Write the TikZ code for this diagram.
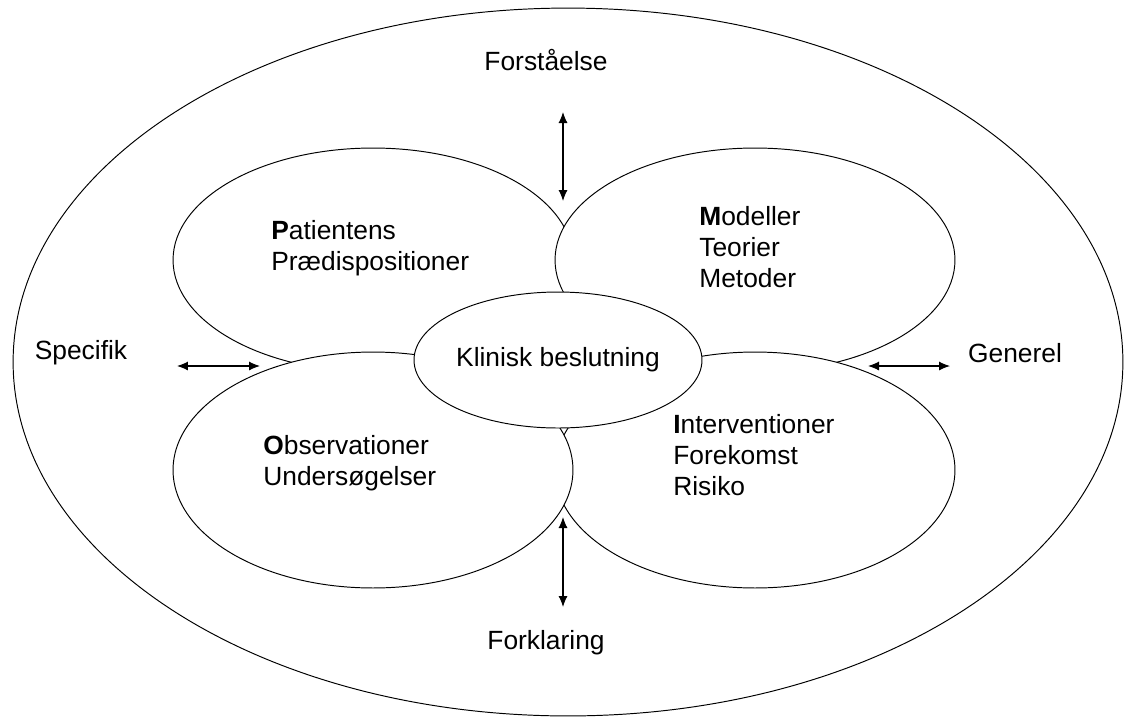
\documentclass[tikz,border=0pt]{standalone}
\usepackage{fontspec}
\setmainfont{Liberation Sans}
\usetikzlibrary{arrows.meta,shapes.geometric,positioning}
\tikzset{
  felt/.style={ellipse, draw, fill=white, line width=0.55pt, inner sep=0pt, minimum width=8cm},
  tekst/.style={font=\fontsize{15}{17.6}\selectfont, inner sep=0pt, align=left},
  pil/.style={line width=0.6pt, {Latex[length=2.2mm,width=1.8mm]}-{Latex[length=2.2mm,width=1.8mm]}}
}

\begin{document}
\begin{tikzpicture}[x=0.02cm,y=-0.02cm]
\useasboundingbox (0,0) rectangle (1126,718);
% ydre ramme
\draw (568,362) node (ramme) [felt, minimum width=22.2cm, minimum height=14.16cm] {};
% de fire felter
\draw (373,260) node (pfelt) [felt, minimum height=4.48cm] {};
\draw (755,260) node (mfelt) [felt, minimum height=4.48cm] {};
\draw (755,470) node (ifelt) [felt, minimum height=4.72cm] {};
\draw (373,470) node (ofelt) [felt, minimum height=4.72cm] {};
\draw (558,360) node (klinisk) [felt, tekst, minimum width=5.5cm, minimum height=2.72cm] {Klinisk beslutning};
%\node (x) at (563,230) {};
\node (pt) at (271,248) [tekst, anchor=west] {\textbf{P}atientens\\Prædispositioner};
\node (mt) at (699,247) [tekst, anchor=west] {\textbf{M}odeller\\Teorier\\Metoder};
\node (ot) at (263,463) [tekst, anchor=west] {\textbf{O}bservationer\\Undersøgelser};
\node (it) at (673,455) [tekst, anchor=west] {\textbf{I}nterventioner\\Forekomst\\Risiko};
\node (forst) at (546,60) [tekst] {Forståelse};
\node (forkl) at (546,643) [tekst] {Forklaring};
\node (spec) at (81,353) [tekst] {Specifik};
\node (gen) at (1015,353) [tekst] {Generel};
\coordinate (op1) at (563,112);
\coordinate (op2) at (563,201);
\coordinate (ned1) at (563,517);
\coordinate (ned2) at (563,607);
\coordinate (v1) at (177,366);
\coordinate (v2) at (260,366);
\coordinate (h1) at (868,366);
\coordinate (h2) at (950,366);
\draw[pil] (op1)--(op2);
\draw[pil] (ned1)--(ned2);
\draw[pil] (v1)--(v2);
\draw[pil] (h1)--(h2);
\end{tikzpicture}
\end{document}
